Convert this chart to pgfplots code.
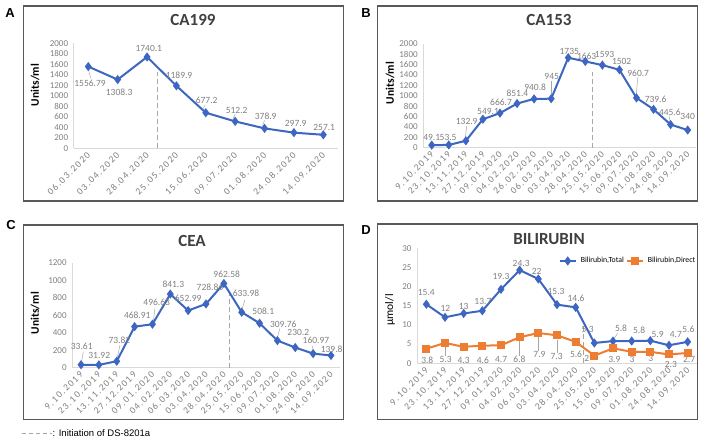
\documentclass[border=0pt]{standalone}
\usepackage{fontspec}
\setmainfont{Carlito}
\newfontfamily\arialf{Liberation Sans}
\newfontfamily\tickf[LetterSpace=15]{Carlito}
\usepackage{pgfplots}
\pgfplotsset{compat=1.18}
\definecolor{BlueS}{HTML}{3D66C2}
\definecolor{OrangeS}{HTML}{ED7D31}
\definecolor{TickGray}{HTML}{7F7F7F}
\definecolor{LabelGray}{HTML}{808080}
\definecolor{AxisGray}{HTML}{D9D9D9}
\definecolor{InitGray}{HTML}{A6A6A6}
\definecolor{FrameGray}{HTML}{595959}
\definecolor{TitleGray}{HTML}{404040}
\pgfplotsset{
  panel/.style={
    scale only axis, axis lines=left,
    axis line style={AxisGray,line width=0.8pt,-},
    major tick length=0pt, clip=false, ymin=0,
    tick label style={font=\fontsize{9}{10}\selectfont,text=TickGray},
    yticklabel style={xshift=-2pt},
    xticklabel style={rotate=45,anchor=east,font=\tickf\fontsize{9.5}{10}\selectfont,yshift=-4pt},
    /pgf/number format/assume math mode=true,
    /pgf/number format/1000 sep={},
    enlargelimits=false
  },
  ser/.style={BlueS,line width=2pt,mark=diamond*,mark size=3pt,mark options={solid}},
  initl/.style={InitGray,dash pattern=on 5pt off 3pt,line width=0.9pt,forget plot}
}
\tikzset{
  lbl/.style={font=\fontsize{9.5}{10}\selectfont,text=LabelGray,inner sep=0pt},
  lead/.style={LabelGray!70,line width=0.5pt}
}
\begin{document}
\begin{tikzpicture}
\useasboundingbox (0,0) rectangle (708pt,443pt);
% frames
\draw[FrameGray,line width=1.2pt] (23.3pt,437pt) rectangle (343.3pt,242pt);
\draw[FrameGray,line width=1.2pt] (377.3pt,437pt) rectangle (697.3pt,242pt);
\draw[FrameGray,line width=1.2pt] (23.3pt,218pt) rectangle (343.3pt,23.7pt);
\draw[FrameGray,line width=1.2pt] (377.3pt,219pt) rectangle (697.3pt,23.7pt);
% panel letters and titles
\node[font=\arialf\bfseries\fontsize{13}{14}\selectfont] at (10pt,430pt) {A};
\node[font=\arialf\bfseries\fontsize{13}{14}\selectfont] at (366pt,430pt) {B};
\node[font=\arialf\bfseries\fontsize{13}{14}\selectfont] at (11pt,218pt) {C};
\node[font=\arialf\bfseries\fontsize{13}{14}\selectfont] at (366pt,213pt) {D};
\node[font=\bfseries\fontsize{17}{18}\selectfont,text=TitleGray] at (193pt,423pt) {CA199};
\node[font=\bfseries\fontsize{17}{18}\selectfont,text=TitleGray] at (549pt,423pt) {CA153};
\node[font=\bfseries\fontsize{17}{18}\selectfont,text=TitleGray] at (192pt,202pt) {CEA};
\node[font=\bfseries\fontsize{17}{18}\selectfont,text=TitleGray] at (549pt,204pt) {BILIRUBIN};
\node[rotate=90,font=\bfseries\fontsize{11.5}{12}\selectfont] at (35pt,358pt) {Units/ml};
\node[rotate=90,font=\bfseries\fontsize{11.5}{12}\selectfont] at (390pt,360pt) {Units/ml};
\node[rotate=90,font=\bfseries\fontsize{11.5}{12}\selectfont] at (35pt,130pt) {Units/ml};
\node[rotate=90,font=\fontsize{11.5}{12}\selectfont] at (390pt,133pt) {µmol/l};
% footnote
\draw[InitGray,dash pattern=on 4pt off 3pt,line width=0.9pt] (21.7pt,9.7pt) -- (52pt,9.7pt);
\node[anchor=west,inner sep=0pt,font=\arialf\fontsize{9.5}{10}\selectfont] at (52.5pt,9.7pt) {: Initiation of DS-8201a};

% ---------------- A: CA199
\begin{axis}[panel,at={(73.6pt,294.7pt)},anchor=south west,
  width=264.4pt,height=105pt,xmin=-0.5,xmax=8.5,ymax=2000,
  ytick={0,200,...,2000},xtick={0,...,8},
  xticklabels={06.03.2020,03.04.2020,28.04.2020,25.05.2020,15.06.2020,09.07.2020,01.08.2020,24.08.2020,14.09.2020}]
\addplot[initl] coordinates {(2.36,0) (2.36,1459)};
\addplot[ser] coordinates {(0,1556.79) (1,1308.3) (2,1740.1) (3,1189.9) (4,677.2) (5,512.2) (6,378.9) (7,297.9) (8,257.1)};
\draw[lead] (axis cs:0.02,1470) -- (axis cs:0.08,1340);
\draw[lead] (axis cs:3.9,740) -- (axis cs:3.98,830);
\draw[lead] (axis cs:4.93,560) -- (axis cs:5.0,650);
\draw[lead] (axis cs:5.93,430) -- (axis cs:6.0,530);
\node[lbl] at (axis cs:0.06,1238) {1556.79};
\node[lbl] at (axis cs:1.05,1067) {1308.3};
\node[lbl] at (axis cs:2.06,1905) {1740.1};
\node[lbl] at (axis cs:3.09,1391) {1189.9};
\node[lbl] at (axis cs:4.03,907) {677.2};
\node[lbl] at (axis cs:5.05,730) {512.2};
\node[lbl] at (axis cs:6.04,615) {378.9};
\node[lbl] at (axis cs:7.06,476) {297.9};
\node[lbl] at (axis cs:8.03,400) {257.1};
\end{axis}

% ---------------- B: CA153
\begin{axis}[panel,at={(423.2pt,295.3pt)},anchor=south west,
  width=273pt,height=103.7pt,xmin=-0.5,xmax=15.5,ymax=2000,
  ytick={0,200,...,2000},xtick={0,...,15},
  xticklabels={9.10.2019,23.10.2019,13.11.2019,27.12.2019,09.01.2020,04.02.2020,26.02.2020,06.03.2020,03.04.2020,28.04.2020,25.05.2020,15.06.2020,09.07.2020,01.08.2020,24.08.2020,14.09.2020}]
\addplot[initl] coordinates {(9.39,0) (9.39,1466)};
\addplot[ser] coordinates {(0,49.1) (1,53.5) (2,132.9) (3,549.1) (4,666.7) (5,851.4) (6,940.8) (7,945) (8,1735) (9,1663) (10,1593) (11,1502) (12,960.7) (13,739.6) (14,445.6) (15,340)};
\draw[lead] (axis cs:2.05,420) -- (axis cs:1.97,190);
\draw[lead] (axis cs:7.03,1290) -- (axis cs:7.03,1000);
\draw[lead] (axis cs:12.08,1360) -- (axis cs:11.98,1010);
\draw[lead] (axis cs:13.9,620) -- (axis cs:13.98,500);
\node[lbl] at (axis cs:0,200) {49.1};
\node[lbl] at (axis cs:0.96,200) {53.5};
\node[lbl] at (axis cs:2.05,502) {132.9};
\node[lbl] at (axis cs:3.3,694) {549.1};
\node[lbl] at (axis cs:4.06,876) {666.7};
\node[lbl] at (axis cs:5.02,1049) {851.4};
\node[lbl] at (axis cs:6.06,1157) {940.8};
\node[lbl] at (axis cs:7.03,1370) {945};
\node[lbl] at (axis cs:8.06,1852) {1735};
\node[lbl] at (axis cs:9.08,1769) {1663};
\node[lbl] at (axis cs:10.13,1802) {1593};
\node[lbl] at (axis cs:11.13,1659) {1502};
\node[lbl] at (axis cs:12.1,1435) {960.7};
\node[lbl] at (axis cs:13.12,939) {739.6};
\node[lbl] at (axis cs:13.96,689) {445.6};
\node[lbl] at (axis cs:15,598) {340};
\end{axis}

% ---------------- C: CEA
\begin{axis}[panel,at={(72.1pt,75.3pt)},anchor=south west,
  width=267.8pt,height=105pt,xmin=-0.5,xmax=14.5,ymax=1200,
  ytick={0,200,...,1200},xtick={0,...,14},
  xticklabels={9.10.2019,23.10.2019,13.11.2019,27.12.2019,09.01.2020,04.02.2020,06.03.2020,03.04.2020,28.04.2020,25.05.2020,15.06.2020,09.07.2020,01.08.2020,24.08.2020,14.09.2020}]
\addplot[initl] coordinates {(8.3,0) (8.3,869)};
\addplot[ser] coordinates {(0,33.61) (1,31.92) (2,73.82) (3,468.91) (4,496.63) (5,841.3) (6,652.99) (7,728.86) (8,962.58) (9,633.98) (10,508.1) (11,309.76) (12,230.2) (13,160.97) (14,139.8)};
\draw[lead] (axis cs:0.13,183) -- (axis cs:0.02,60);
\draw[lead] (axis cs:2.18,259) -- (axis cs:2.02,100);
\draw[lead] (axis cs:4.14,679) -- (axis cs:4.05,526);
\draw[lead] (axis cs:9.18,774) -- (axis cs:9.0,660);
\draw[lead] (axis cs:11.14,450) -- (axis cs:11.0,347);
\draw[lead] (axis cs:12.95,250) -- (axis cs:13.02,190);
\node[lbl] at (axis cs:0.04,240) {33.61};
\node[lbl] at (axis cs:1.02,145) {31.92};
\node[lbl] at (axis cs:2.15,309) {73.82};
\node[lbl] at (axis cs:3.15,594) {468.91};
\node[lbl] at (axis cs:4.24,747) {496.63};
\node[lbl] at (axis cs:5.17,953) {841.3};
\node[lbl] at (axis cs:6.0,793) {652.99};
\node[lbl] at (axis cs:7.22,914) {728.86};
\node[lbl] at (axis cs:8.16,1071) {962.58};
\node[lbl] at (axis cs:9.24,850) {633.98};
\node[lbl] at (axis cs:10.21,648) {508.1};
\node[lbl] at (axis cs:11.33,499) {309.76};
\node[lbl] at (axis cs:12.17,400) {230.2};
\node[lbl] at (axis cs:13.16,309) {160.97};
\node[lbl] at (axis cs:14.04,210) {139.8};
\end{axis}

% ---------------- D: BILIRUBIN
\begin{axis}[panel,at={(417pt,79.7pt)},anchor=south west,
  width=280pt,height=115pt,xmin=-0.5,xmax=14.5,ymax=30,
  ytick={0,5,...,30},xtick={0,...,14},
  xticklabels={9.10.2019,23.10.2019,13.11.2019,27.12.2019,09.01.2020,04.02.2020,06.03.2020,03.04.2020,28.04.2020,25.05.2020,15.06.2020,09.07.2020,01.08.2020,24.08.2020,14.09.2020},
  legend columns=2, legend cell align=left,
  legend image code/.code={\draw[#1,mark repeat=2,mark phase=2] plot coordinates {(0pt,0pt) (8pt,0pt) (16pt,0pt)};},
  legend style={draw=none,fill=none,at={(0.998,0.89)},anchor=east,
    font=\fontsize{7.8}{8}\selectfont,inner sep=0pt,
    nodes={inner sep=1pt},
    /tikz/every even column/.append style={column sep=1pt},
    /tikz/every odd column/.append style={column sep=3pt}}]
\addplot[initl] coordinates {(8.39,0) (8.39,10)};
\addplot[ser] coordinates {(0,15.4) (1,12) (2,13) (3,13.7) (4,19.3) (5,24.3) (6,22) (7,15.3) (8,14.6) (9,5.3) (10,5.8) (11,5.8) (12,5.9) (13,4.7) (14,5.6)};
\addlegendentry{Bilirubin,Total}
\addplot[OrangeS,line width=2pt,mark=square*,mark size=3pt,mark options={solid}] coordinates {(0,3.8) (1,5.3) (2,4.3) (3,4.6) (4,4.7) (5,6.8) (6,7.9) (7,7.3) (8,5.6) (9,2) (10,3.9) (11,3) (12,3) (13,2.3) (14,2.7)};
\addlegendentry{Bilirubin,Direct}
\draw[lead] (axis cs:1,4.2) -- (axis cs:1,1.9);
\draw[lead] (axis cs:5,5.7) -- (axis cs:5,1.9);
\draw[lead] (axis cs:6,6.8) -- (axis cs:6,3.1);
\draw[lead] (axis cs:7,6.2) -- (axis cs:7,2.6);
\draw[lead] (axis cs:10.25,7.8) -- (axis cs:10.02,6.2);
\node[lbl] at (axis cs:0,18.5) {15.4};
\node[lbl] at (axis cs:1.02,14.2) {12};
\node[lbl] at (axis cs:2,14.8) {13};
\node[lbl] at (axis cs:3.03,16.1) {13.7};
\node[lbl] at (axis cs:4,22.6) {19.3};
\node[lbl] at (axis cs:5.08,26.1) {24.3};
\node[lbl] at (axis cs:5.91,23.9) {22};
\node[lbl] at (axis cs:6.95,18.7) {15.3};
\node[lbl] at (axis cs:8.02,17) {14.6};
\node[lbl] at (axis cs:8.64,8.7) {5.3};
\node[lbl] at (axis cs:10.43,9.1) {5.8};
\node[lbl] at (axis cs:11.4,8.7) {5.8};
\node[lbl] at (axis cs:12.39,7.6) {5.9};
\node[lbl] at (axis cs:13.37,7.4) {4.7};
\node[lbl] at (axis cs:14.04,8.9) {5.6};
\node[lbl] at (axis cs:0.05,0.86) {3.8};
\node[lbl] at (axis cs:1.03,1.04) {5.3};
\node[lbl] at (axis cs:2,0.7) {4.3};
\node[lbl] at (axis cs:3.03,0.7) {4.6};
\node[lbl] at (axis cs:4.01,1.04) {4.7};
\node[lbl] at (axis cs:4.99,1.04) {6.8};
\node[lbl] at (axis cs:6.06,2.2) {7.9};
\node[lbl] at (axis cs:6.98,1.7) {7.3};
\node[lbl] at (axis cs:8.02,2.3) {5.6};
\node[lbl] at (axis cs:8.59,1.3) {2};
\node[lbl] at (axis cs:10.07,1.04) {3.9};
\node[lbl] at (axis cs:11.02,1.04) {3};
\node[lbl] at (axis cs:12.03,1.3) {3};
\node[lbl] at (axis cs:13.1,-0.4) {2.3};
\node[lbl] at (axis cs:14.08,1.04) {2.7};
\end{axis}
\end{tikzpicture}
\end{document}
